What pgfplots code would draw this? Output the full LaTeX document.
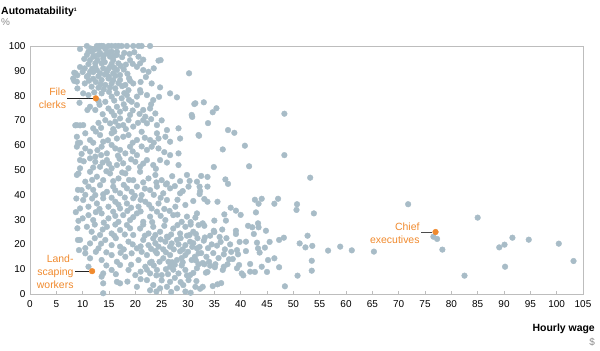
\documentclass[border=0pt]{standalone}
\usepackage{pgfplots}
\pgfplotsset{compat=1.18}
\usepackage{fontspec}
\setmainfont{Liberation Sans}
\definecolor{dot}{HTML}{A8BCC7}
\definecolor{orng}{HTML}{F08A2E}
\definecolor{framegray}{HTML}{BDBDBD}
\definecolor{unitgray}{HTML}{8C8C8C}
\begin{document}
\begin{tikzpicture}
\useasboundingbox (-30bp,-57bp) rectangle (570bp,294bp);
\begin{axis}[
  scale only axis, width=553bp, height=248bp,
  xmin=0, xmax=105, ymin=0, ymax=100,
  xtick={0,5,...,105}, ytick={0,10,...,100},
  axis line style={draw=framegray, line width=0.8bp},
  xtick pos=bottom, ytick pos=left,
  tick align=inside, major tick length=3bp,
  xtick style={draw=framegray, line width=0.6bp},
  ytick style={draw=none},
  ticklabel style={font=\fontsize{10}{11}\selectfont},
  xticklabel style={yshift=-3bp},
  yticklabel style={xshift=-1bp},
  /pgf/number format/assume math mode=true,
  clip=false,
]
\addplot[only marks, mark=*, mark size=2.85bp, mark options={draw=dot, fill=dot}] coordinates {
(10.8,100)(12.7,100)(13.2,100)(13.6,100)(13.9,100)(14.9,100)(15.5,100)(16.2,100)(16.8,100)(17.4,100)(18.4,100)(19.6,100)(20.6,100)(21.2,100)(22.8,100)
(9.5,98.8)(11.1,97.7)(11.7,97.7)(15.5,97.7)(16.5,97.7)(12.2,98.5)(14.3,98.8)(15.0,97.5)
(11.5,99.0)(13.0,98.8)(17.9,97.2)(18.9,96.8)(19.8,97.5)(14.0,96.2)(12.3,96.0)(18.2,92.5)(19.5,92.8)(11.8,90.8)(10.0,89.5)(16.2,88.0)(17.2,92.0)(22.0,87.5)(23.5,91.0)(13.4,84.5)(11.2,86.0)(15.2,83.3)(18.8,87.0)
(10.8,96.4)(12.0,95.7)(11.4,94.3)(13.0,96.4)(13.9,95.0)(14.6,97.0)(15.2,95.7)(15.8,94.3)(16.5,96.4)(16.8,93.0)(13.6,93.0)(12.4,93.0)(11.1,92.7)(20.6,95.7)(20.9,93.0)(24.4,94.1)(19.0,94.3)
(14.2,93.5)(15.5,92.8)(12.8,94.2)(10.3,94.8)(17.5,95.5)(16.0,96.0)(13.3,97.2)(21.5,94.5)(24.8,94.3)
(8.6,89.0)(10.4,91.0)(11.4,89.6)(12.4,91.6)(13.3,89.0)(13.9,91.0)(14.6,89.6)(15.2,91.6)(15.8,89.0)(16.5,90.3)(17.1,88.3)(20.3,91.6)(21.5,90.3)(22.5,89.6)(30.2,89.0)
(9.0,88.2)(11.0,88.0)(12.0,89.5)(13.0,87.8)(14.2,88.5)(15.0,87.6)(16.0,91.2)(17.8,90.5)(18.5,88.8)(12.7,90.3)(14.9,90.8)
(8.2,86.9)(8.9,85.6)(10.4,84.9)(11.7,83.6)(13.6,86.3)(14.3,84.3)(14.9,86.9)(15.5,84.9)(16.2,82.9)(17.1,86.3)(18.1,84.3)(18.7,82.2)(19.6,84.9)(23.1,84.9)(24.7,83.3)(20.9,82.2)
(12.5,85.5)(13.0,83.2)(15.8,86.2)(16.8,85.0)(14.0,82.5)(17.5,83.8)(19.0,86.0)(21.0,85.5)(12.0,86.8)
(8.4,89.2)(8.4,85.9)(9.5,91.5)(10.8,87.6)(9.0,82.9)(9.4,77.1)(10.9,74.2)
(10.1,80.9)(11.1,80.2)(13.6,80.9)(14.3,77.5)(15.5,79.6)(16.5,80.9)(17.4,78.9)(18.4,80.2)(19.3,77.5)(20.3,79.6)(22.2,80.2)(23.4,78.2)(26.6,80.9)(27.9,79.3)(31.4,76.9)
(12.2,81.3)(13.0,77.8)(15.0,81.5)(16.0,78.0)(17.9,81.0)(18.8,78.3)(21.0,81.3)(24.5,79.5)
(11.4,75.5)(12.4,74.2)(14.9,74.8)(15.5,73.5)(16.5,75.5)(17.1,73.5)(18.1,74.8)(19.0,72.2)(20.3,76.2)(21.5,74.2)(22.8,74.8)(23.8,72.8)(30.7,72.2)(21.9,71.5)
(13.2,76.3)(13.8,72.5)(16.0,72.0)(17.8,76.5)(19.5,74.0)(20.8,72.6)(23.0,76.5)
(8.9,68.1)(10.1,68.1)(12.0,66.8)(14.3,70.1)(15.2,68.8)(16.2,69.5)(17.1,70.8)(17.7,68.1)(18.7,70.1)(19.6,67.5)(21.5,70.1)(22.2,68.8)(24.1,68.1)(28.2,66.8)(26.0,66.1)(32.0,64.1)
(9.5,68.0)(13.0,69.0)(13.5,67.0)(15.8,66.5)(16.8,67.8)(18.2,66.5)(20.5,69.0)(23.0,70.5)(25.0,70.0)
(8.9,63.4)(10.5,64.8)(11.4,62.1)(13.3,64.1)(13.9,61.4)(15.5,64.8)(16.5,62.7)(17.7,63.4)(18.7,64.1)(20.3,62.1)(21.2,65.4)(22.8,62.1)(24.4,62.7)(25.7,63.4)(26.6,61.4)(28.5,62.7)(24.1,64.8)
(12.5,65.5)(12.0,61.0)(14.8,62.0)(16.0,65.5)(19.5,61.0)(21.8,63.0)(23.5,61.0)(9.5,61.0)
(8.9,59.4)(10.5,58.7)(11.4,57.4)(12.4,55.4)(13.6,59.4)(14.6,56.7)(15.5,60.1)(16.2,58.7)(17.1,58.1)(18.1,56.7)(19.0,59.4)(20.3,56.0)(22.2,58.1)(23.1,59.4)(24.4,58.7)(26.6,56.0)(28.2,56.7)
(12.8,58.0)(13.5,56.0)(16.7,55.8)(19.5,57.5)(21.2,59.5)(25.5,57.2)(9.8,56.5)
(11.4,54.7)(12.4,53.3)(13.3,51.3)(14.6,54.0)(15.5,50.7)(16.5,52.0)(17.7,52.7)(18.7,50.7)(20.0,53.3)(20.9,51.3)(22.2,54.0)(23.4,52.0)(24.7,54.0)(28.2,52.0)(9.5,50.7)
(10.2,53.5)(13.8,53.0)(15.0,52.5)(17.0,54.5)(19.2,54.3)(21.5,52.6)(23.9,50.5)(26.0,53.0)(12.0,51.0)
(9.2,48.6)(11.4,49.3)(12.7,47.3)(13.9,45.9)(15.2,48.6)(16.8,46.6)(18.1,48.6)(19.6,45.9)(20.9,49.3)(22.5,46.6)(23.8,48.0)(25.0,45.9)(26.0,44.6)(29.8,48.0)(31.7,45.3)(10.5,45.3)
(11.8,46.0)(14.5,49.5)(15.8,45.5)(17.5,49.0)(18.8,46.0)(21.5,45.0)(24.0,45.0)(27.0,47.5)(28.5,45.5)
(9.8,41.9)(11.1,43.3)(12.4,39.9)(13.3,43.9)(14.6,41.2)(15.8,43.3)(17.1,40.6)(18.4,42.6)(19.3,41.2)(20.3,43.3)(21.2,39.9)(22.8,41.9)(24.1,43.3)(25.3,40.6)(26.6,42.6)(28.5,40.6)(30.1,43.3)
(10.5,40.0)(12.0,42.0)(13.9,40.2)(16.2,41.8)(17.8,44.0)(19.9,39.6)(21.8,42.5)(23.5,40.0)(25.8,44.2)(27.5,43.5)(29.0,41.5)
(10.1,37.9)(11.1,35.2)(12.7,36.5)(13.9,38.6)(14.9,35.2)(16.2,37.2)(17.1,34.5)(18.4,36.5)(19.6,38.6)(20.6,35.2)(21.9,37.2)(23.1,34.5)(24.4,36.5)(26.0,37.9)(27.6,35.2)(29.5,35.9)(9.5,34.5)
(11.8,38.5)(13.2,34.3)(15.5,38.8)(16.8,36.0)(18.0,38.9)(19.2,34.8)(21.0,38.0)(22.6,36.0)(24.8,38.8)(25.5,34.3)(28.0,38.0)(31.0,37.5)
(11.1,31.8)(12.0,29.8)(13.6,32.5)(14.9,30.5)(15.8,33.2)(16.8,29.1)(17.7,31.8)(19.0,29.8)(20.3,32.5)(21.5,29.1)(22.8,31.2)(24.1,33.2)(25.7,29.8)(27.2,31.8)(28.8,29.1)(29.8,31.2)(31.7,32.5)
(10.0,30.5)(12.5,33.0)(14.0,28.8)(16.2,31.5)(18.5,33.5)(19.6,31.0)(21.0,33.3)(23.2,29.0)(24.8,31.5)(26.5,33.5)(28.0,32.0)(30.5,29.0)
(10.8,27.1)(11.7,25.1)(13.3,23.8)(14.6,27.1)(15.5,24.4)(17.1,25.8)(18.4,27.8)(19.6,23.8)(20.9,26.4)(22.5,24.4)(23.4,27.1)(24.7,25.1)(26.0,23.1)(27.2,26.4)(28.5,24.4)(29.5,27.1)(31.0,25.1)(32.0,27.8)
(12.3,28.0)(13.8,26.0)(16.2,28.0)(16.0,23.5)(18.0,24.0)(19.0,26.5)(21.5,28.0)(21.8,23.5)(23.8,23.8)(25.5,27.5)(26.8,24.0)(28.0,27.8)(29.8,23.5)(30.5,28.0)
(9.5,21.8)(11.4,20.4)(13.0,18.4)(14.3,21.8)(15.5,19.7)(17.1,19.1)(18.7,21.1)(20.3,18.4)(21.5,21.8)(22.5,19.7)(23.4,22.4)(24.4,19.1)(25.7,21.1)(26.6,19.1)(27.9,21.8)(29.5,19.7)(30.4,21.1)(31.7,18.4)
(10.5,18.5)(12.3,22.5)(13.5,20.3)(16.3,22.5)(17.8,18.0)(19.5,20.0)(21.0,19.2)(23.0,18.2)(24.8,22.0)(26.2,22.8)(27.3,18.0)(28.6,22.5)(29.0,18.0)(30.8,19.0)(25.3,18.0)(23.8,20.5)(26.9,20.4)(28.2,20.0)
(10.5,16.4)(11.4,14.4)(13.6,13.7)(15.5,15.7)(16.5,13.0)(18.1,15.0)(19.3,16.4)(20.6,13.7)(22.2,15.7)(23.1,13.0)(24.1,16.4)(25.3,14.4)(26.6,15.7)(27.9,13.7)(29.5,15.7)(30.7,13.7)(32.0,16.4)
(12.5,17.0)(14.5,16.8)(17.2,16.6)(21.2,17.0)(23.8,17.3)(24.6,13.0)(25.8,16.8)(27.0,12.8)(28.5,17.2)(29.0,12.8)(30.0,17.0)(31.3,15.0)(22.8,12.6)(26.3,13.0)(28.8,14.5)
(13.9,8.3)(15.5,9.7)(17.1,11.7)(18.7,9.7)(20.0,7.6)(21.9,11.0)(22.8,8.3)(24.1,9.7)(25.0,7.6)(26.6,11.0)(28.2,8.3)(29.5,9.7)(30.4,7.6)(31.7,10.4)(11.1,11.0)
(14.5,11.5)(16.3,8.0)(19.2,11.8)(21.0,9.0)(23.5,11.5)(24.0,7.5)(25.8,10.0)(26.2,8.0)(27.5,11.8)(27.2,9.8)(28.8,11.5)(29.8,7.5)(31.0,8.5)(32.0,12.0)(22.2,9.8)
(13.6,7.0)(13.9,4.3)(16.5,4.9)(17.1,4.3)(20.3,2.9)(22.2,5.6)(23.4,3.6)(24.7,2.3)(26.0,2.9)(26.6,4.9)(27.9,2.3)(29.1,3.6)(30.1,5.6)(31.4,2.9)(13.9,0.3)
(21.0,6.0)(25.0,5.5)(27.5,6.5)(28.6,4.8)(29.5,1.0)(30.5,0.5)(24.0,1.0)(26.8,0.8)(18.5,5.0)(22.8,1.5)
(8.6,68.0)(9.1,60.9)(9.5,54.0)(8.9,48.0)(9.1,42.0)(8.7,33.0)(9.1,21.8)(9.3,17.7)(9.0,26.5)(8.8,38.5)(9.2,29.5)
(31.0,20.5)(32.2,19.0)(33.0,21.5)(33.8,18.5)(34.5,20.0)(35.5,19.5)(36.2,21.0)(37.0,18.0)(32.5,16.5)(33.5,15.0)(34.8,16.5)(35.8,14.5)(36.8,16.0)(37.8,14.0)(31.5,13.5)(32.8,12.5)(34.0,13.0)(35.2,12.0)(37.5,12.0)(38.2,17.0)(33.2,22.8)(34.2,23.5)(36.0,23.0)(37.3,22.5)(31.8,22.5)(35.0,25.0)(36.5,26.0)(38.0,20.0)
(31.2,76.6)(33.0,77.3)(30.8,71.4)(35.4,74.9)(34.7,73.3)(33.8,68.9)(48.3,72.7)(37.6,66.1)
(32.1,63.8)(38.8,65.0)(36.6,58.3)(40.8,59.8)(48.3,56.0)(34.9,51.2)(41.6,51.5)(32.5,47.6)(33.7,47.2)(30.3,45.6)(37.1,46.2)(37.6,44.4)(53.2,46.9)(32.2,43.3)(33.7,43.3)(32.3,41.5)(32.2,40.3)(33.1,38.3)(33.7,37.2)(35.6,37.2)(42.7,38.0)(44.0,38.4)(43.4,36.4)(47.1,38.4)(46.4,36.4)(50.7,36.2)(50.6,33.9)(53.9,32.5)(38.1,34.8)(39.1,33.6)(36.9,32.1)(40.0,31.9)(42.9,32.9)
(31.4,30.8)(32.8,28.5)(33.1,27.5)(35.0,29.6)(34.9,25.5)(37.2,29.6)(41.4,27.5)(42.2,26.9)(43.3,28.5)(43.4,26.9)(42.5,24.2)(44.8,25.5)(39.1,25.5)(39.1,24.2)(30.3,23.8)(31.5,24.2)(47.3,21.8)(48.2,22.7)(52.7,23.5)(51.2,20.4)(52.3,18.8)(53.6,19.4)(56.6,17.5)
(39.8,21.0)(41.0,21.1)(43.1,20.7)(45.5,21.0)(44.6,18.7)(43.3,18.4)(43.6,16.7)(39.3,17.7)(41.0,17.3)(39.5,16.0)(38.5,14.1)(39.7,11.7)(39.3,10.4)(40.2,8.3)(40.5,7.5)(45.2,13.7)(46.4,14.4)(44.0,11.0)(45.0,8.9)(47.3,10.8)(53.5,13.4)(53.5,9.4)(50.8,7.4)(48.4,3.1)(41.8,12.1)(42.7,8.9)(41.8,9.0)
(31.6,5.2)(32.8,2.9)(32.3,2.1)(34.7,3.2)(35.6,3.9)(36.3,4.4)(33.1,12.0)(34.2,11.4)(33.4,8.6)(33.7,8.9)(35.1,10.8)(36.8,11.0)(36.6,9.7)
(58.9,19.1)(61.1,17.6)(65.3,17.1)(71.8,36.2)(76.6,23.1)(77.3,22.2)(78.3,17.9)(85.0,30.8)(82.5,7.4)(89.1,18.8)(90.1,19.9)(91.6,22.7)(90.2,11.0)(94.7,21.9)(100.4,20.3)(103.2,13.3)
};
\addplot[only marks, mark=*, mark size=2.85bp, mark options={draw=orng, fill=orng}] coordinates {
(12.5,78.9)(11.8,9.2)(77.0,25.0)
};
\draw[black!85, line width=0.6bp] (axis cs:7.1,78.9) -- (axis cs:11.9,78.9);
\draw[black!85, line width=0.6bp] (axis cs:8.6,9.2) -- (axis cs:11.2,9.2);
\draw[black!70, line width=0.6bp] (axis cs:74.3,25.0) -- (axis cs:76.4,25.0);
\node[anchor=east, align=right, text=orng, font=\fontsize{10.5}{13}\selectfont, inner sep=0pt] at (axis cs:6.9,78.8) {File\\clerks};
\node[anchor=east, align=right, text=orng, font=\fontsize{10.5}{13}\selectfont, inner sep=0pt] at (axis cs:8.3,9.0) {Land-\\scaping\\workers};
\node[anchor=east, align=right, text=orng, font=\fontsize{10.5}{13}\selectfont, inner sep=0pt] at (axis cs:74.0,24.6) {Chief\\executives};
\end{axis}
\node[anchor=base west, inner sep=0pt, font=\bfseries\fontsize{10.5}{12}\selectfont] at (-29bp,279bp) {Automatability\textsuperscript{\fontsize{5}{6}\selectfont 1}};
\node[anchor=base west, inner sep=0pt, text=unitgray, font=\fontsize{10}{12}\selectfont] at (-29bp,268bp) {\%};
\node[anchor=base east, inner sep=0pt, font=\bfseries\fontsize{10.5}{12}\selectfont] at (565bp,-37bp) {Hourly wage};
\node[anchor=base east, inner sep=0pt, text=unitgray, font=\fontsize{10}{12}\selectfont] at (565bp,-51bp) {\$};
\end{tikzpicture}
\end{document}
